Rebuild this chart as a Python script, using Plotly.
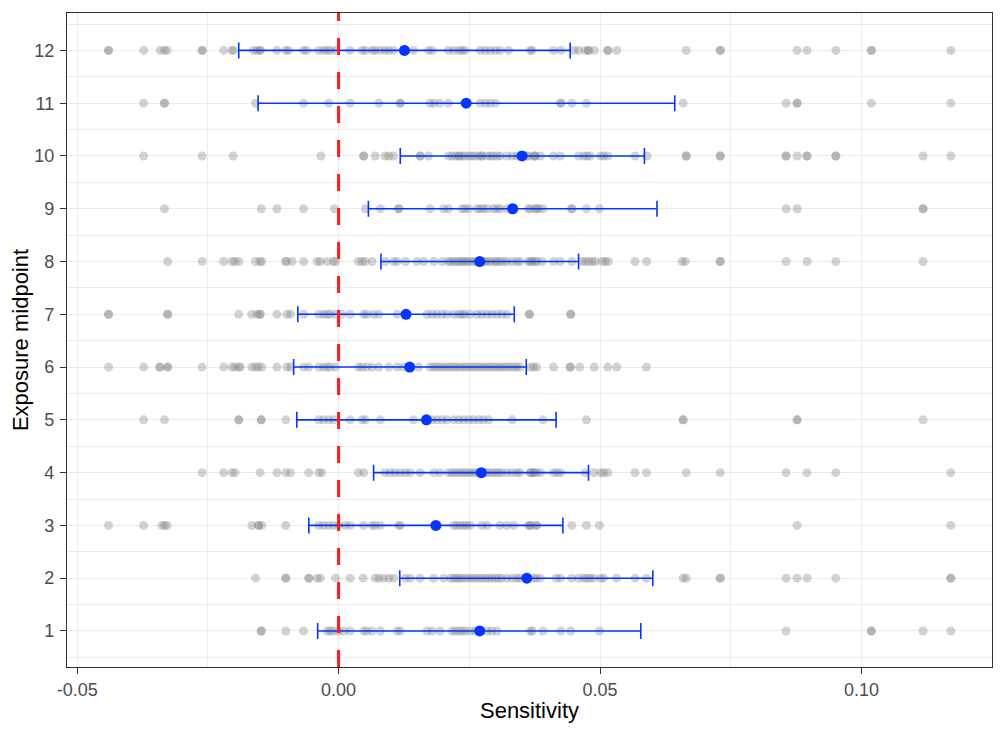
import plotly.graph_objects as go

# Exposure midpoints (y categories)
MIDPOINTS = list(range(1, 13))

# Per-midpoint sensitivity estimates (grey dots)
SENS_1 = [-0.0148, -0.0148, -0.0101, -0.0067, -0.0022, -0.0016, -0.0010, 0.0000, 0.0010, 0.0022,
          0.0048, 0.0054, 0.0064, 0.0080, 0.0112, 0.0118, 0.0169, 0.0179, 0.0194, 0.0217, 0.0223,
          0.0230, 0.0236, 0.0242, 0.0252, 0.0261, 0.0284, 0.0293, 0.0303, 0.0367, 0.0370, 0.0391,
          0.0425, 0.0444, 0.0499, 0.0856, 0.1019, 0.1019, 0.1118, 0.1171]
SENS_2 = [-0.0159, -0.0101, -0.0101, -0.0057, -0.0057, -0.0041, -0.0035, -0.0006, 0.0022, 0.0047,
          0.0070, 0.0077, 0.0086, 0.0096, 0.0105, 0.0128, 0.0137, 0.0156, 0.0182, 0.0201, 0.0214,
          0.0220, 0.0226, 0.0230, 0.0236, 0.0242, 0.0249, 0.0255, 0.0261, 0.0268, 0.0274, 0.0281,
          0.0287, 0.0293, 0.0300, 0.0306, 0.0312, 0.0322, 0.0332, 0.0341, 0.0347, 0.0373, 0.0386,
          0.0378, 0.0416, 0.0424, 0.0446, 0.0459, 0.0469, 0.0475, 0.0481, 0.0488, 0.0501, 0.0507,
          0.0532, 0.0567, 0.0589, 0.0659, 0.0665, 0.0730, 0.0730, 0.0856, 0.0877, 0.0896, 0.0951,
          0.1171, 0.1171]
SENS_3 = [-0.0440, -0.0373, -0.0338, -0.0333, -0.0328, -0.0166, -0.0153, -0.0153, -0.0147, -0.0101,
          -0.0038, -0.0029, -0.0019, -0.0010, 0.0000, 0.0013, 0.0022, 0.0048, 0.0064, 0.0070,
          0.0080, 0.0115, 0.0118, 0.0220, 0.0226, 0.0233, 0.0239, 0.0245, 0.0252, 0.0274, 0.0284,
          0.0309, 0.0322, 0.0335, 0.0367, 0.0379, 0.0363, 0.0367, 0.0378, 0.0446, 0.0474, 0.0499,
          0.0877, 0.1171]
SENS_4 = [-0.0261, -0.0220, -0.0204, -0.0198, -0.0150, -0.0118, -0.0101, -0.0092, -0.0057, -0.0038,
          -0.0032, 0.0038, 0.0048, 0.0089, 0.0099, 0.0108, 0.0118, 0.0128, 0.0137, 0.0156, 0.0182,
          0.0194, 0.0210, 0.0217, 0.0223, 0.0230, 0.0236, 0.0242, 0.0249, 0.0255, 0.0261, 0.0268,
          0.0274, 0.0281, 0.0287, 0.0293, 0.0300, 0.0306, 0.0312, 0.0322, 0.0332, 0.0341, 0.0347,
          0.0367, 0.0373, 0.0386, 0.0367, 0.0373, 0.0379, 0.0411, 0.0418, 0.0425, 0.0472, 0.0488,
          0.0501, 0.0507, 0.0515, 0.0567, 0.0589, 0.0665, 0.0730, 0.0856, 0.0896, 0.0951, 0.1171]
SENS_5 = [-0.0373, -0.0333, -0.0191, -0.0191, -0.0148, -0.0148, -0.0101, -0.0038, -0.0029, -0.0019,
          -0.0010, 0.0022, 0.0045, 0.0051, 0.0080, 0.0143, 0.0179, 0.0188, 0.0198, 0.0207, 0.0220,
          0.0230, 0.0239, 0.0249, 0.0258, 0.0268, 0.0277, 0.0287, 0.0332, 0.0391, 0.0474, 0.0659,
          0.0659, 0.0877, 0.0877, 0.1118]
SENS_6 = [-0.0440, -0.0373, -0.0342, -0.0342, -0.0327, -0.0327, -0.0261, -0.0220, -0.0204, -0.0198,
          -0.0191, -0.0188, -0.0166, -0.0159, -0.0153, -0.0147, -0.0118, -0.0099, -0.0092, -0.0067,
          -0.0057, -0.0038, -0.0029, -0.0022, -0.0016, -0.0006, 0.0038, 0.0045, 0.0054, 0.0064,
          0.0077, 0.0096, 0.0112, 0.0124, 0.0153, 0.0175, 0.0182, 0.0188, 0.0194, 0.0201, 0.0207,
          0.0214, 0.0220, 0.0226, 0.0233, 0.0239, 0.0245, 0.0252, 0.0258, 0.0265, 0.0271, 0.0277,
          0.0284, 0.0290, 0.0296, 0.0303, 0.0309, 0.0315, 0.0322, 0.0328, 0.0335, 0.0341, 0.0347,
          0.0367, 0.0373, 0.0379, 0.0411, 0.0443, 0.0443, 0.0461, 0.0489, 0.0515, 0.0532, 0.0589]
SENS_7 = [-0.0440, -0.0440, -0.0327, -0.0327, -0.0191, -0.0166, -0.0156, -0.0150, -0.0150, -0.0118,
          -0.0099, -0.0092, -0.0067, -0.0038, -0.0029, -0.0022, -0.0016, -0.0006, 0.0006, 0.0022,
          0.0048, 0.0054, 0.0067, 0.0077, 0.0112, 0.0169, 0.0179, 0.0188, 0.0198, 0.0207, 0.0220,
          0.0230, 0.0236, 0.0242, 0.0252, 0.0265, 0.0274, 0.0284, 0.0293, 0.0303, 0.0312, 0.0322,
          0.0365, 0.0365, 0.0444, 0.0444]
SENS_8 = [-0.0327, -0.0261, -0.0220, -0.0204, -0.0198, -0.0191, -0.0159, -0.0150, -0.0147, -0.0102,
          -0.0099, -0.0089, -0.0067, -0.0041, -0.0035, -0.0022, -0.0010, -0.0006, 0.0038, 0.0045,
          0.0051, 0.0064, 0.0089, 0.0105, 0.0112, 0.0128, 0.0150, 0.0163, 0.0182, 0.0198, 0.0210,
          0.0214, 0.0220, 0.0226, 0.0230, 0.0236, 0.0239, 0.0245, 0.0249, 0.0255, 0.0261, 0.0265,
          0.0271, 0.0277, 0.0281, 0.0287, 0.0293, 0.0300, 0.0303, 0.0309, 0.0315, 0.0322, 0.0332,
          0.0341, 0.0347, 0.0367, 0.0379, 0.0363, 0.0370, 0.0376, 0.0389, 0.0411, 0.0424, 0.0446,
          0.0465, 0.0472, 0.0478, 0.0485, 0.0491, 0.0504, 0.0510, 0.0516, 0.0567, 0.0589, 0.0657,
          0.0663, 0.0730, 0.0730, 0.0856, 0.0896, 0.0951, 0.1118]
SENS_9 = [-0.0333, -0.0148, -0.0118, -0.0067, -0.0008, 0.0051, 0.0080, 0.0115, 0.0115, 0.0175,
          0.0201, 0.0210, 0.0236, 0.0242, 0.0249, 0.0265, 0.0271, 0.0277, 0.0284, 0.0296, 0.0303,
          0.0309, 0.0322, 0.0367, 0.0379, 0.0363, 0.0376, 0.0383, 0.0391, 0.0446, 0.0446, 0.0474,
          0.0499, 0.0856, 0.0877, 0.1118, 0.1118]
SENS_10 = [-0.0373, -0.0261, -0.0202, -0.0034, 0.0048, 0.0048, 0.0070, 0.0089, 0.0096, 0.0105,
           0.0156, 0.0156, 0.0172, 0.0210, 0.0217, 0.0223, 0.0230, 0.0230, 0.0236, 0.0242, 0.0249,
           0.0255, 0.0261, 0.0268, 0.0274, 0.0274, 0.0284, 0.0290, 0.0296, 0.0303, 0.0309, 0.0322,
           0.0332, 0.0341, 0.0347, 0.0360, 0.0373, 0.0386, 0.0363, 0.0376, 0.0376, 0.0411, 0.0424,
           0.0459, 0.0469, 0.0475, 0.0481, 0.0501, 0.0507, 0.0515, 0.0567, 0.0590, 0.0665, 0.0665,
           0.0730, 0.0730, 0.0856, 0.0856, 0.0877, 0.0896, 0.0896, 0.0951, 0.0951, 0.1118, 0.1171]
SENS_11 = [-0.0373, -0.0333, -0.0333, -0.0159, -0.0067, -0.0019, 0.0022, 0.0077, 0.0118, 0.0118,
           0.0175, 0.0182, 0.0194, 0.0210, 0.0271, 0.0281, 0.0290, 0.0300, 0.0425, 0.0425, 0.0446,
           0.0474, 0.0659, 0.0856, 0.0877, 0.0877, 0.1019, 0.1171]
SENS_12 = [-0.0440, -0.0440, -0.0373, -0.0341, -0.0333, -0.0328, -0.0261, -0.0261, -0.0220, -0.0204,
           -0.0201, -0.0163, -0.0156, -0.0150, -0.0150, -0.0118, -0.0101, -0.0096, -0.0067, -0.0061,
           -0.0038, -0.0029, -0.0022, -0.0016, -0.0006, 0.0022, 0.0045, 0.0051, 0.0064, 0.0070,
           0.0080, 0.0089, 0.0096, 0.0105, 0.0128, 0.0143, 0.0172, 0.0179, 0.0210, 0.0220, 0.0230,
           0.0236, 0.0242, 0.0271, 0.0281, 0.0290, 0.0300, 0.0309, 0.0325, 0.0367, 0.0370, 0.0411,
           0.0425, 0.0450, 0.0459, 0.0472, 0.0478, 0.0478, 0.0489, 0.0515, 0.0515, 0.0532, 0.0665,
           0.0730, 0.0730, 0.0877, 0.0896, 0.0951, 0.1019, 0.1019, 0.1171]

# Summary per midpoint: point estimate and interval
SENS_MEAN = [0.0270, 0.0360, 0.0186, 0.0273, 0.0168, 0.0136, 0.0129, 0.0270, 0.0333, 0.0351, 0.0244, 0.0126]
SENS_LOW = [-0.0040, 0.0117, -0.0057, 0.0067, -0.0080, -0.0086, -0.0078, 0.0081, 0.0057, 0.0118, -0.0154, -0.0191]
SENS_HIGH = [0.0578, 0.0601, 0.0429, 0.0478, 0.0416, 0.0359, 0.0336, 0.0459, 0.0609, 0.0585, 0.0643, 0.0443]

X_TICKS = [-0.05, 0.0, 0.05, 0.10]
X_TICK_LABELS = ["-0.05", "0.00", "0.05", "0.10"]

rows = [SENS_1, SENS_2, SENS_3, SENS_4, SENS_5, SENS_6,
        SENS_7, SENS_8, SENS_9, SENS_10, SENS_11, SENS_12]
dot_x, dot_y = [], []
for mid, vals in zip(MIDPOINTS, rows):
    dot_x += vals
    dot_y += [mid] * len(vals)

BLUE = "#0536ff"
GRID = "#ebebeb"
DARK = "#333333"

fig = go.Figure()
fig.add_trace(go.Scatter(
    x=dot_x, y=dot_y, mode="markers",
    marker=dict(size=9, color="rgba(128,128,128,0.35)", line=dict(width=0)),
    hoverinfo="x+y",
))
fig.add_trace(go.Scatter(
    x=SENS_MEAN, y=MIDPOINTS, mode="markers",
    marker=dict(size=11, color=BLUE),
    error_x=dict(
        type="data", symmetric=False,
        array=[h - m for h, m in zip(SENS_HIGH, SENS_MEAN)],
        arrayminus=[m - l for m, l in zip(SENS_MEAN, SENS_LOW)],
        color=BLUE, thickness=1.6, width=8,
    ),
))
fig.add_vline(x=0, line=dict(color="#ff1a1a", width=3, dash="17px,17px"), layer="above")

fig.update_xaxes(
    range=[-0.05195, 0.12498], tickmode="array", tickvals=X_TICKS, ticktext=X_TICK_LABELS,
    showgrid=True, gridcolor=GRID, gridwidth=1.1, zeroline=False,
    minor=dict(tickmode="linear", tick0=-0.025, dtick=0.05, showgrid=True, gridcolor=GRID, gridwidth=0.6, ticks=""),
    showline=True, mirror=True, linecolor=DARK, linewidth=1.2,
    ticks="outside", ticklen=6, tickwidth=1.2, tickcolor=DARK,
    tickfont=dict(size=18, color="#4d4d4d"), automargin=False,
    title=dict(text="Sensitivity", font=dict(size=22, color="black"), standoff=3),
)
fig.update_yaxes(
    range=[0.317, 12.709], tickmode="array", tickvals=MIDPOINTS,
    showgrid=True, gridcolor=GRID, gridwidth=1.1, zeroline=False,
    minor=dict(tickmode="linear", tick0=0.5, dtick=1, showgrid=True, gridcolor=GRID, gridwidth=0.6, ticks=""),
    showline=True, mirror=True, linecolor=DARK, linewidth=1.2,
    ticks="outside", ticklen=6, tickwidth=1.2, tickcolor=DARK, ticklabelstandoff=2,
    tickfont=dict(size=18, color="#4d4d4d"), automargin=False,
    title=dict(text="Exposure midpoint", font=dict(size=22, color="black"), standoff=10),
)
# the page body keeps its 8px margin, so the figure is sized to fit inside the window
fig.update_layout(
    width=996, height=724,
    margin=dict(l=59, r=12, t=5, b=65),
    plot_bgcolor="white", paper_bgcolor="white",
    font=dict(family="Liberation Sans, Arial, sans-serif"),
    showlegend=False,
)

fig.write_html("out.html")
